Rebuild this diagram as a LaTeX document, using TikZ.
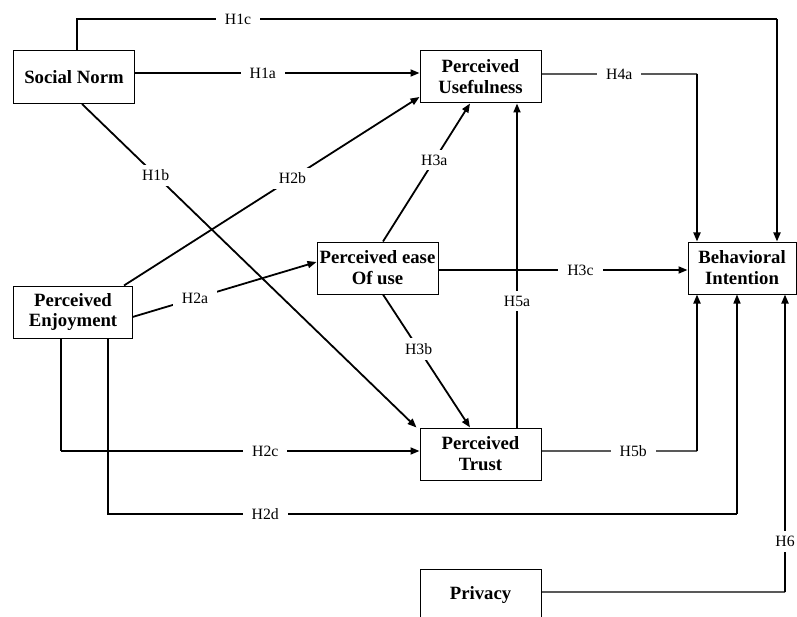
\documentclass[tikz,border=0pt]{standalone}
\usepackage{fontspec}
\setmainfont{Liberation Serif}
\usetikzlibrary{arrows.meta,calc}
\begin{document}
\begin{tikzpicture}[x=1bp,y=-1bp,
  box/.style={draw,line width=1bp,minimum width=121bp,minimum height=52bp,inner sep=0pt,align=center,
    font=\fontsize{18.8}{21}\selectfont\bfseries},
  lab/.style={fill=white,inner xsep=9bp,inner ysep=5bp,font=\fontsize{15.8}{17}\selectfont},
  heavy/.style={line width=1.8bp},
  light/.style={line width=1.1bp},
  midw/.style={line width=1.4bp},
  arr/.style={-{Triangle[length=9bp,width=7bp]}}
]
\useasboundingbox (0,0) rectangle (797,617);
\clip (0,0) rectangle (797,617);

% nodes
\node[box,minimum width=120bp,minimum height=53bp] (sn) at (74,77) {Social Norm};
\node[box] (pu) at (480.5,77) {Perceived\\Usefulness};
\node[box] (peou) at (377.5,268) {Perceived ease\\Of use};
\node[box,minimum width=118bp] (pe) at (73,312) {Perceived\\Enjoyment};
\node[box,minimum width=108bp] (bi) at (742,268) {Behavioral\\Intention};
\node[box] (pt) at (480.5,454) {Perceived\\Trust};
\node[box] (pr) at (480.5,595) {Privacy};

% corner coordinates
\coordinate (k1c) at (77,19);
\coordinate (k1cr) at (777,19);
\coordinate (k4a) at (697,74);
\coordinate (k2c) at (61,451);
\coordinate (k2d) at (108,514);
\coordinate (k2dr) at (737,514);
\coordinate (k5b) at (697,451);
\coordinate (k6) at (785,592);

% H1c
\draw[light] (sn.north -| k1c) -- (k1c) -- node[lab,pos=0.23]{H1c} (k1cr);
\draw[heavy,arr] (k1cr) -- (k1cr |- bi.north);
% H1a
\draw[heavy,arr] ([yshift=4bp]sn.east) -- node[lab,pos=0.45]{H1a} ([yshift=4bp]pu.west);
% H4a
\draw[light] ([yshift=3bp]pu.east) -- node[lab,pos=0.5]{H4a} (k4a);
\draw[heavy,arr] (k4a) -- (k4a |- bi.north);
% H1b
\draw[heavy,arr] ([xshift=8bp]sn.south) -- node[lab,pos=0.22]{H1b} ([xshift=-3bp]pt.north west);
% H2b
\draw[heavy,arr] ([xshift=51bp]pe.north) -- node[lab,pos=0.57]{H2b} ([yshift=-20bp]pu.west);
% H2a
\draw[heavy,arr] ([yshift=-5bp]pe.east) -- node[lab,pos=0.34]{H2a} ([yshift=6bp]peou.west);
% H3a
\draw[heavy,arr] ([xshift=5.5bp]peou.north) -- node[lab,pos=0.59]{H3a} ([xshift=-10.5bp]pu.south);
% H3b
\draw[heavy,arr] ([xshift=5.5bp]peou.south) -- node[lab,pos=0.41]{H3b} ([xshift=-10.5bp]pt.north);
% H5a
\draw[heavy,arr] ([xshift=36.5bp]pt.north) -- node[lab,pos=0.39]{H5a} ([xshift=36.5bp]pu.south);
% H3c
\draw[heavy,arr] ([yshift=-2bp]peou.east) -- node[lab,pos=0.57]{H3c} ([yshift=-2bp]bi.west);
% H2c
\draw[light] (pe.south -| k2c) -- (k2c);
\draw[heavy,arr] (k2c) -- node[lab,pos=0.57]{H2c} (k2c -| pt.west);
% H2d
\draw[light] (pe.south -| k2d) -- (k2d) -- node[lab,pos=0.25]{H2d} (k2dr);
\draw[midw,arr] (k2dr) -- (k2dr |- bi.south);
% H5b
\draw[light] ([yshift=3bp]pt.east) -- node[lab,pos=0.59]{H5b} (k5b);
\draw[heavy,arr] (k5b) -- (k5b |- bi.south);
% H6
\draw[light] ([yshift=3bp]pr.east) -- (k6);
\draw[heavy,arr] (k6) -- node[lab,pos=0.17]{H6} (k6 |- bi.south);
\end{tikzpicture}
\end{document}
